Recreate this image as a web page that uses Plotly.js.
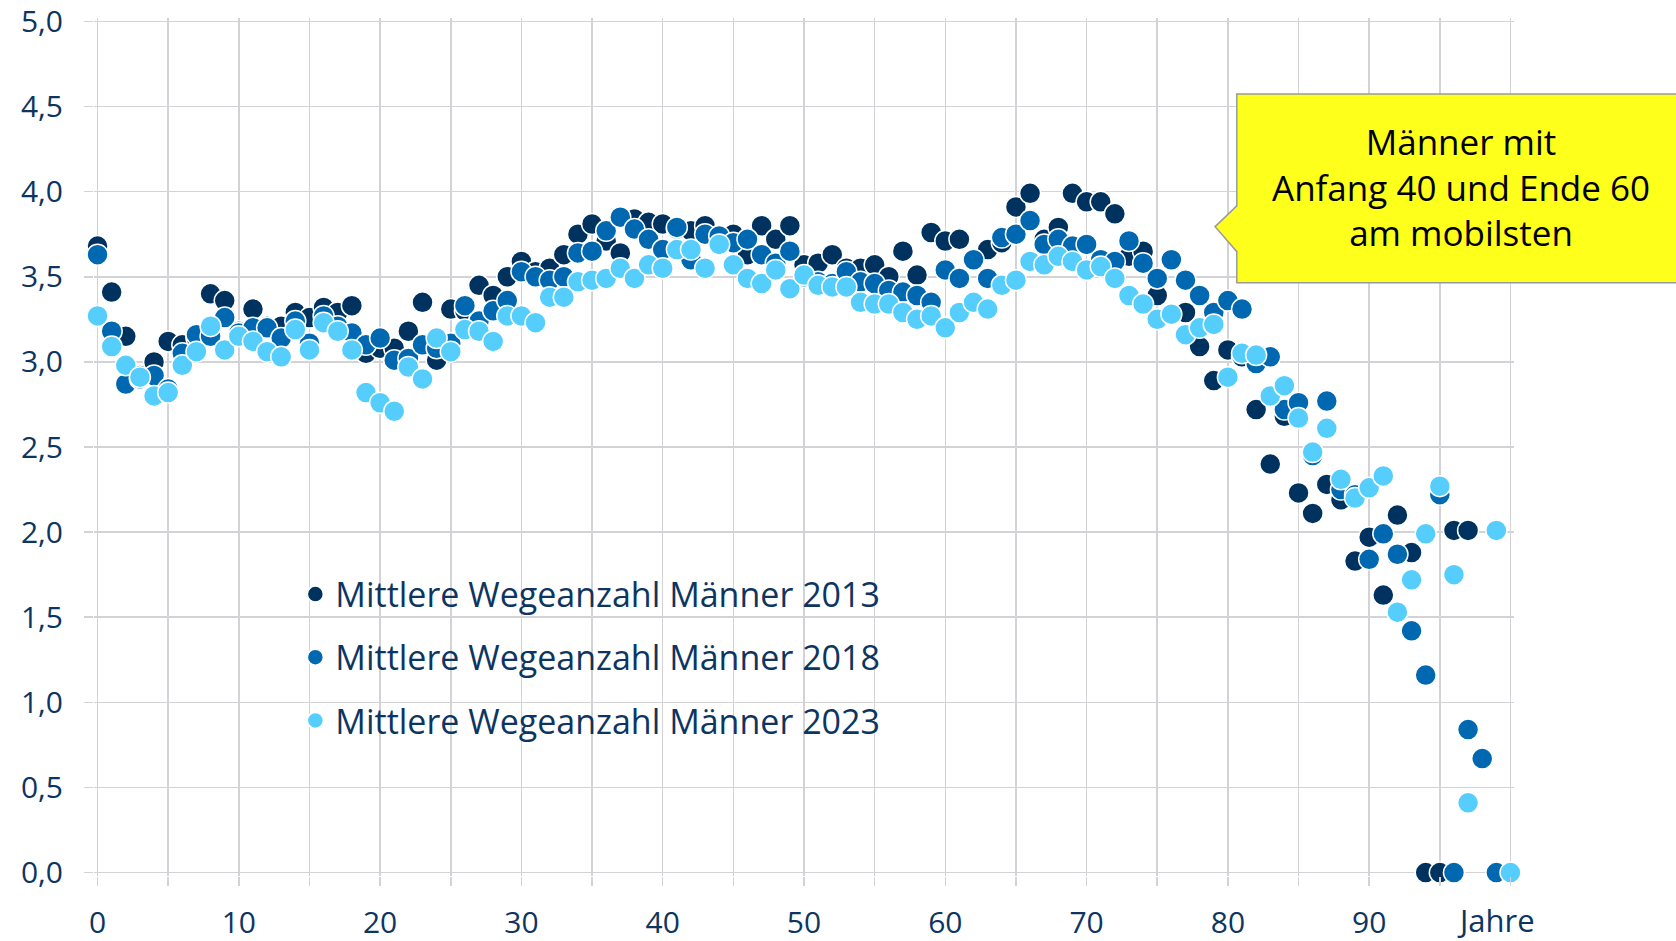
<!DOCTYPE html>
<html>
<head>
<meta charset="utf-8">
<script src="https://cdn.plot.ly/plotly-3.0.1.min.js"></script>
<style>
  html, body { margin: 0; padding: 0; background: #ffffff; }
  #chart { width: 1676px; height: 941px; }
</style>
</head>
<body>
<div id="chart"></div>
<script>
// Mittlere Wegeanzahl by age, men, three survey years

let ages = Array.from({ length: 101 }, (v, i) => i)

let wege2013 = [
    3.68, 3.41, 3.15, 2.92, 3.00, 3.12, 3.10, 3.14, 3.40, 3.36,
    3.18, 3.31, 3.21, 3.21, 3.29, 3.26, 3.32, 3.29, 3.33, 3.05,
    3.08, 3.08, 3.18, 3.35, 3.01, 3.31, 3.30, 3.45, 3.39, 3.50,
    3.59, 3.53, 3.55, 3.63, 3.75, 3.81, 3.71, 3.64, 3.84, 3.82,
    3.81, 3.78, 3.77, 3.80, 3.74, 3.75, 3.63, 3.80, 3.72, 3.80,
    3.57, 3.58, 3.63, 3.55, 3.55, 3.57, 3.50, 3.65, 3.51, 3.76,
    3.71, 3.72, 3.60, 3.66, 3.70, 3.91, 3.99, 3.72, 3.79, 3.99,
    3.94, 3.94, 3.87, 3.62, 3.65, 3.39, 3.28, 3.29, 3.09, 2.89,
    3.07, 3.03, 2.72, 2.40, 2.68, 2.23, 2.11, 2.28, 2.19, 1.83,
    1.97, 1.63, 2.10, 1.88, 0.00, 0.00, 2.01, 2.01, null, null,
    null
]

let wege2018 = [
    3.63, 3.18, 2.87, 2.90, 2.92, 2.84, 3.05, 3.16, 3.15, 3.26,
    3.17, 3.20, 3.20, 3.14, 3.24, 3.11, 3.27, 3.21, 3.17, 3.10,
    3.14, 3.01, 3.02, 3.10, 3.08, 3.11, 3.33, 3.24, 3.30, 3.36,
    3.53, 3.50, 3.48, 3.50, 3.64, 3.65, 3.77, 3.85, 3.78, 3.72,
    3.66, 3.79, 3.60, 3.75, 3.74, 3.70, 3.72, 3.63, 3.58, 3.65,
    3.50, 3.47, 3.46, 3.53, 3.47, 3.46, 3.42, 3.41, 3.39, 3.35,
    3.54, 3.49, 3.60, 3.49, 3.73, 3.75, 3.83, 3.69, 3.72, 3.68,
    3.69, 3.60, 3.59, 3.71, 3.58, 3.49, 3.60, 3.48, 3.39, 3.29,
    3.36, 3.31, 2.99, 3.03, 2.72, 2.76, 2.45, 2.77, 2.25, 2.22,
    1.84, 1.99, 1.87, 1.42, 1.16, 2.22, 0.00, 0.84, 0.67, 0.00,
    null
]

let wege2023 = [
    3.27, 3.09, 2.98, 2.91, 2.80, 2.82, 2.98, 3.06, 3.21, 3.07,
    3.15, 3.12, 3.06, 3.03, 3.19, 3.07, 3.23, 3.18, 3.07, 2.82,
    2.76, 2.71, 2.97, 2.90, 3.14, 3.06, 3.19, 3.18, 3.12, 3.27,
    3.27, 3.23, 3.38, 3.38, 3.47, 3.48, 3.49, 3.55, 3.49, 3.57,
    3.55, 3.66, 3.66, 3.55, 3.69, 3.57, 3.49, 3.46, 3.54, 3.43,
    3.51, 3.45, 3.44, 3.44, 3.35, 3.34, 3.34, 3.29, 3.25, 3.27,
    3.20, 3.29, 3.35, 3.31, 3.45, 3.48, 3.59, 3.57, 3.62, 3.59,
    3.54, 3.56, 3.49, 3.39, 3.34, 3.25, 3.28, 3.16, 3.20, 3.22,
    2.91, 3.05, 3.04, 2.80, 2.86, 2.67, 2.47, 2.61, 2.31, 2.20,
    2.26, 2.33, 1.53, 1.72, 1.99, 2.27, 1.75, 0.41, null, 2.01,
    0.00
]

let seriesNames = [
    'Mittlere Wegeanzahl Männer 2013',
    'Mittlere Wegeanzahl Männer 2018',
    'Mittlere Wegeanzahl Männer 2023'
]

let xTickVals = [0, 5, 10, 15, 20, 25, 30, 35, 40, 45, 50, 55, 60, 65, 70, 75, 80, 85, 90, 95, 100]
let xTickText = ['0', '', '10', '', '20', '', '30', '', '40', '', '50', '', '60', '', '70', '', '80', '', '90', '', '']
let yTickVals = [0, 0.5, 1, 1.5, 2, 2.5, 3, 3.5, 4, 4.5, 5]
let yTickText = ['0,0', '0,5', '1,0', '1,5', '2,0', '2,5', '3,0', '3,5', '4,0', '4,5', '5,0']

let calloutText = 'Männer mit<br>Anfang 40 und Ende 60<br>am mobilsten'

let colors = ['#00325f', '#0068b0', '#55cefd']
let textColor = '#0d3561'
let gridColor = '#d2d2d7'
let fontFamily = '"Open Sans", "Noto Sans", sans-serif'

let traces =
    [wege2013, wege2018, wege2023].map((values, i) => {
        return {
            x: ages,
            y: values,
            name: seriesNames[i],
            legendgroup: 'g' + i,
            type: 'scatter',
            mode: 'markers',
            cliponaxis: false,
            marker: {
                size: 21,
                color: colors[i],
                line: { color: '#ffffff', width: 1.5 }
            },
            hoverinfo: 'x+y'
        }
    })

let axisCommon = {
    showgrid: true,
    gridcolor: gridColor,
    gridwidth: 1.5,
    ticks: 'outside',
    ticklen: 9,
    tickwidth: 1.5,
    tickcolor: gridColor,
    zeroline: false,
    showline: false,
    fixedrange: true,
    ticklabeloverflow: 'allow',
    tickfont: { family: fontFamily, size: 30, color: textColor }
}

// ranges get a small pad on every side: plotly drops gridlines that sit
// right on the plot edge (0,0 line, x = 0 line, 5,0 line)
let layout = {
    width: 1676,
    height: 941,
    margin: { l: 93.8, r: 162.1, t: 18.1, b: 65.1 },
    paper_bgcolor: '#ffffff',
    plot_bgcolor: '#ffffff',
    showlegend: true,
    font: { family: fontFamily, color: textColor },
    xaxis: {
        ...axisCommon,
        range: [-0.25, 100.25],
        tickmode: 'array',
        tickvals: xTickVals,
        ticktext: xTickText,
        ticklabelstandoff: 11
    },
    yaxis: {
        ...axisCommon,
        range: [-0.02, 5.02],
        tickmode: 'array',
        tickvals: yTickVals,
        ticktext: yTickText,
        ticklabelstandoff: 15
    },
    legend: {
        x: 0.1418,
        y: 0.362,
        xanchor: 'left',
        yanchor: 'top',
        bgcolor: 'rgba(0,0,0,0)',
        traceorder: 'grouped',
        tracegroupgap: 16,
        font: { family: fontFamily, size: 34, color: textColor }
    },
    shapes: [
        // white box behind the legend
        {
            type: 'rect', xref: 'paper', yref: 'paper', layer: 'between',
            x0: 0.1149, x1: 0.5797, y0: 0.1398, y1: 0.3651,
            fillcolor: '#ffffff', line: { width: 0 }
        },
        // yellow callout
        {
            type: 'path', xref: 'paper', yref: 'paper', layer: 'above',
            path: 'M 0.8048 0.9115 L 1.13 0.9115 L 1.13 0.6915 L 0.8048 0.6915 L 0.8048 0.7277 L 0.7895 0.7568 L 0.8048 0.7810 Z',
            fillcolor: '#ffff1c',
            line: { color: '#9a9a9a', width: 1.5 }
        }
    ],
    annotations: [
        {
            text: calloutText,
            xref: 'paper', yref: 'paper',
            x: 0.9627, y: 0.8025,
            xanchor: 'center', yanchor: 'middle',
            showarrow: false,
            align: 'center',
            font: { family: fontFamily, size: 35, color: '#000000' }
        },
        {
            text: 'Jahre',
            xref: 'x', yref: 'paper',
            x: 99, y: 0,
            xanchor: 'center', yanchor: 'middle',
            yshift: -44,
            showarrow: false,
            font: { family: fontFamily, size: 31, color: textColor }
        }
    ]
}

let config = { staticPlot: true, responsive: false }

Plotly.newPlot('chart', traces, layout, config)
</script>
</body>
</html>
